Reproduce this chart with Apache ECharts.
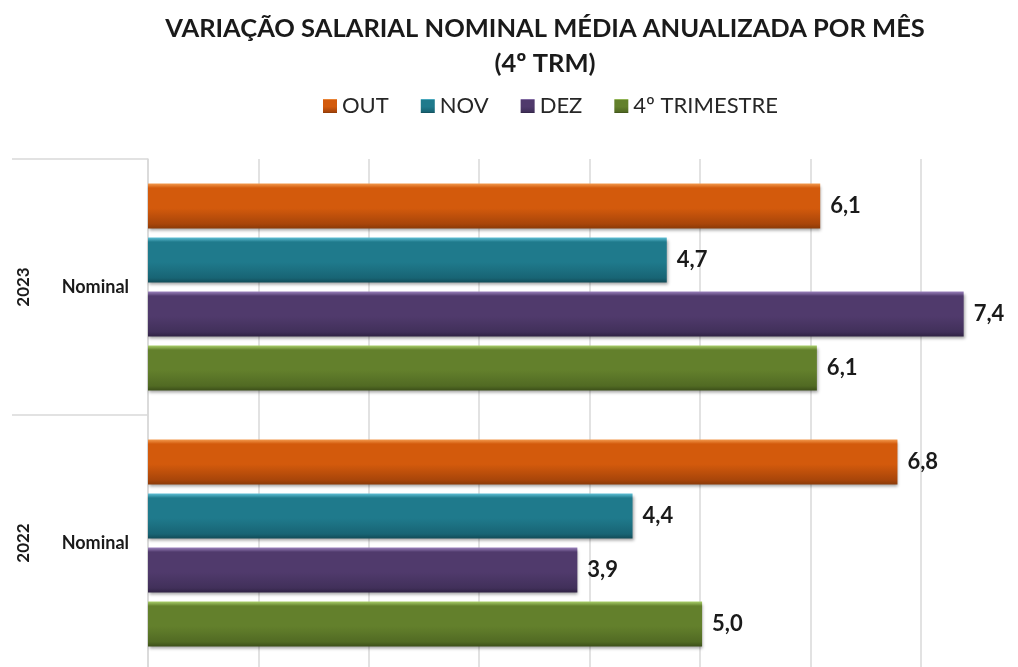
<!DOCTYPE html>
<html>
<head>
<meta charset="utf-8">
<script src="https://cdn.jsdelivr.net/npm/echarts@6/dist/echarts.min.js"></script>
<style>html,body{margin:0;padding:0;background:#fff;}#chart{width:1018px;height:667px;}</style>
</head>
<body>
<div id="chart"></div>
<script>
const categories = ['2023', '2022'];
const rowLabel = 'Nominal';
const seriesNames = ['OUT', 'NOV', 'DEZ', '4º TRIMESTRE'];
const outValues = [6.09, 6.79];
const novValues = [4.70, 4.39];
const dezValues = [7.39, 3.89];
const trimValues = [6.06, 5.02];
const xTicks = [0, 1, 2, 3, 4, 5, 6, 7, 8];

const palette = [
  {light: '#f39a4e', main: '#d35a0c', dark: '#a8450a', edge: '#8a3a08'},
  {light: '#5fc0d6', main: '#1f7a8c', dark: '#186474', edge: '#124c58'},
  {light: '#9b82bd', main: '#503a6c', dark: '#41305a', edge: '#302344'},
  {light: '#a9cf6a', main: '#63802c', dark: '#516a23', edge: '#3c4f19'}
];
const allValues = [outValues, novValues, dezValues, trimValues];
const FONT = 'Lato, "Open Sans", sans-serif';

function grad(p) {
  return new echarts.graphic.LinearGradient(0, 0, 0, 1, [
    {offset: 0, color: p.light},
    {offset: 0.1, color: p.main},
    {offset: 0.55, color: p.main},
    {offset: 0.9, color: p.dark},
    {offset: 1, color: p.edge}
  ]);
}

const chart = echarts.init(document.getElementById('chart'));
chart.setOption({
  animation: false,
  backgroundColor: '#ffffff',
  title: {
    text: 'VARIAÇÃO SALARIAL NOMINAL MÉDIA ANUALIZADA POR MÊS\n(4º TRM)',
    left: 540,
    textAlign: 'center',
    top: 6,
    textStyle: {fontFamily: FONT, fontWeight: 'bold', fontSize: 25.5, color: '#1a1a1a', lineHeight: 35}
  },
  legend: {
    data: seriesNames.map(function (n, i) { return {name: n, itemStyle: {color: grad(palette[i])}}; }),
    top: 90,
    left: 318,
    itemWidth: 14,
    itemHeight: 14,
    itemGap: 32,
    icon: 'rect',
    textStyle: {fontFamily: FONT, fontSize: 22, color: '#262626'}
  },
  grid: {left: 148, top: 159, width: 883, height: 512, outerBoundsMode: 'none', containLabel: false},
  xAxis: {
    type: 'value',
    min: xTicks[0],
    max: xTicks[xTicks.length - 1],
    interval: 1,
    axisLabel: {show: false},
    axisLine: {show: false},
    axisTick: {show: false},
    splitLine: {show: true, lineStyle: {color: '#d9d9d9', width: 1.5}}
  },
  yAxis: [
    {
      type: 'category',
      data: categories,
      inverse: true,
      axisLine: {show: true, lineStyle: {color: '#d9d9d9', width: 1.5}},
      axisTick: {show: true, length: 136, lineStyle: {color: '#d9d9d9', width: 1.5}},
      axisLabel: {formatter: function () { return rowLabel; }, margin: 19, fontFamily: FONT, fontWeight: 'bold', fontSize: 18, color: '#1a1a1a'}
    },
    {
      type: 'category',
      data: categories,
      inverse: true,
      position: 'left',
      axisLine: {show: false},
      axisTick: {show: false},
      axisLabel: {rotate: 90, margin: 116, fontFamily: FONT, fontWeight: 'bold', fontSize: 17, color: '#1a1a1a'}
    }
  ],
  series: seriesNames.map(function (name, i) {
    return {
      name: name,
      type: 'bar',
      yAxisIndex: 0,
      data: allValues[i],
      barWidth: 45,
      barGap: '20%',
      itemStyle: {
        color: grad(palette[i]),
        shadowColor: 'rgba(0,0,0,0.35)',
        shadowBlur: 3,
        shadowOffsetX: 1,
        shadowOffsetY: 2
      },
      label: {
        show: true,
        position: 'right',
        distance: 10,
        formatter: function (p) { return p.value.toFixed(1).replace('.', ','); },
        fontFamily: FONT,
        fontWeight: 'bold',
        fontSize: 22,
        color: '#1a1a1a'
      }
    };
  })
});
</script>
</body>
</html>
